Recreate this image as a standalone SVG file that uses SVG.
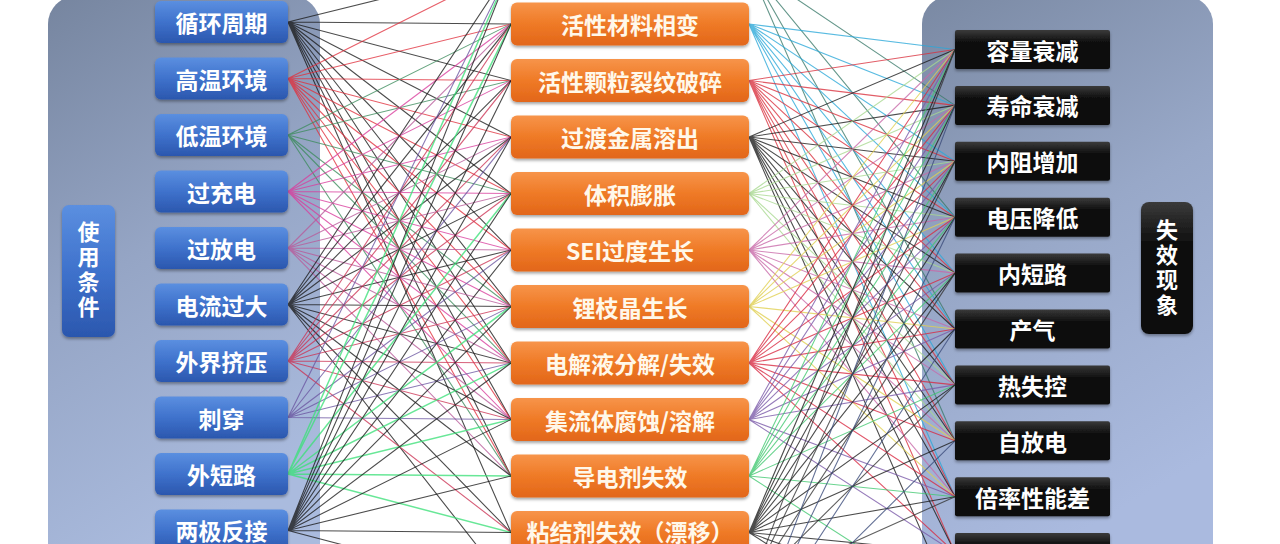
<svg xmlns="http://www.w3.org/2000/svg" width="1280" height="544" viewBox="0 0 1280 544">
<defs>
<linearGradient id="gPanelL" x1="0" y1="0" x2="0.3" y2="1"><stop offset="0" stop-color="#76859f"/><stop offset="0.5" stop-color="#95a5c5"/><stop offset="1" stop-color="#aabbde"/></linearGradient>
<linearGradient id="gPanelR" x1="0" y1="0" x2="0.3" y2="1"><stop offset="0" stop-color="#7a89a3"/><stop offset="0.5" stop-color="#98a8c8"/><stop offset="1" stop-color="#aabadf"/></linearGradient>
<linearGradient id="gBlue" x1="0" y1="0" x2="0" y2="1"><stop offset="0" stop-color="#5b8fe0"/><stop offset="0.5" stop-color="#3f72cc"/><stop offset="1" stop-color="#2b57ae"/></linearGradient>
<linearGradient id="gOrange" x1="0" y1="0" x2="0" y2="1"><stop offset="0" stop-color="#f7944a"/><stop offset="0.5" stop-color="#ef7a26"/><stop offset="1" stop-color="#e2661a"/></linearGradient>
<linearGradient id="gBlack" x1="0" y1="0" x2="0" y2="1"><stop offset="0" stop-color="#3a3a3a"/><stop offset="0.35" stop-color="#0a0a0a"/><stop offset="1" stop-color="#111"/></linearGradient>
<filter id="sh" x="-10%" y="-20%" width="120%" height="150%"><feDropShadow dx="0" dy="2" stdDeviation="1.5" flood-color="#000" flood-opacity="0.35"/></filter>
</defs>
<style>
text{font-family:"Noto Sans CJK SC","Noto Sans",sans-serif;font-weight:bold;fill:#fff;text-anchor:middle;dominant-baseline:central}
.lbl{font-size:23px}
.mid{font-size:23px;fill:#fff8ea}
.vert{font-size:22px;writing-mode:vertical-rl;letter-spacing:3px}
.blue{fill:url(#gBlue);filter:url(#sh)}
.orange{fill:url(#gOrange);filter:url(#sh)}
.black{fill:url(#gBlack);filter:url(#sh)}
#connectors path{fill:none;stroke-width:1.1;stroke-opacity:0.78}
</style>
<rect width="1280" height="544" fill="#ffffff"/>
<g id="panel-left"><rect x="48" y="-4" width="272" height="580" rx="28" fill="url(#gPanelL)"/></g>
<g id="panel-right"><rect x="922" y="-4" width="291" height="580" rx="28" fill="url(#gPanelR)"/></g>
<g id="connectors">
<path stroke="#1a1a1a" d="M288 22L511 -33M288 22L511 24M288 22L511 80.5M288 22L511 137M288 22L511 193.5M288 22L511 250M288 22L511 306.5M288 22L511 363M288 22L511 419.5M288 22L511 476M288 22L511 532.5"/>
<path stroke="#e0303c" d="M288 78.5L511 -33M288 78.5L511 24M288 78.5L511 80.5M288 78.5L511 137M288 78.5L511 193.5M288 78.5L511 250M288 78.5L511 306.5M288 78.5L511 363M288 78.5L511 419.5M288 78.5L511 476"/>
<path stroke="#3c8c5c" d="M288 135L511 24M288 135L511 80.5M288 135L511 193.5M288 135L511 306.5M288 135L511 363M288 135L511 476"/>
<path stroke="#d83c9c" d="M288 191.5L511 24M288 191.5L511 80.5M288 191.5L511 137M288 191.5L511 193.5M288 191.5L511 250M288 191.5L511 306.5M288 191.5L511 363M288 191.5L511 419.5"/>
<path stroke="#b85a9a" d="M288 248L511 24M288 248L511 137M288 248L511 193.5M288 248L511 250M288 248L511 306.5M288 248L511 363M288 248L511 419.5M288 248L511 476"/>
<path stroke="#1a1a1a" d="M288 304.5L511 -33M288 304.5L511 24M288 304.5L511 80.5M288 304.5L511 137M288 304.5L511 193.5M288 304.5L511 250M288 304.5L511 306.5M288 304.5L511 363M288 304.5L511 419.5M288 304.5L511 476M288 304.5L511 532.5M288 304.5L511 589"/>
<path stroke="#cc3355" d="M288 361L511 24M288 361L511 80.5M288 361L511 137M288 361L511 193.5M288 361L511 250M288 361L511 306.5M288 361L511 363M288 361L511 419.5M288 361L511 532.5"/>
<path stroke="#6a55a0" d="M288 417.5L511 -33M288 417.5L511 137M288 417.5L511 250M288 417.5L511 306.5M288 417.5L511 363M288 417.5L511 419.5"/>
<path stroke="#3ee07a" style="stroke-width:1.5" d="M288 474L511 -33M288 474L511 24M288 474L511 193.5M288 474L511 306.5M288 474L511 363M288 474L511 419.5M288 474L511 476M288 474L511 532.5"/>
<path stroke="#1a1a1a" d="M288 530.5L511 -33M288 530.5L511 24M288 530.5L511 80.5M288 530.5L511 137M288 530.5L511 193.5M288 530.5L511 250M288 530.5L511 306.5M288 530.5L511 363M288 530.5L511 419.5M288 530.5L511 476M288 530.5L511 532.5M288 530.5L511 589"/>
<path stroke="#3a7a6a" d="M749 -33L955 105.4M749 -33L955 217.2M749 -33L955 329M749 -33L955 440.8"/>
<path stroke="#2aa8d8" d="M749 24L955 49.5M749 24L955 105.4M749 24L955 161.3M749 24L955 217.2M749 24L955 273.1M749 24L955 329M749 24L955 384.9M749 24L955 496.7"/>
<path stroke="#d8303c" d="M749 80.5L955 49.5M749 80.5L955 105.4M749 80.5L955 161.3M749 80.5L955 217.2M749 80.5L955 273.1M749 80.5L955 329M749 80.5L955 384.9M749 80.5L955 440.8M749 80.5L955 496.7M749 80.5L955 552.6"/>
<path stroke="#1a1a1a" d="M749 137L955 49.5M749 137L955 105.4M749 137L955 161.3M749 137L955 217.2M749 137L955 273.1M749 137L955 329M749 137L955 384.9M749 137L955 440.8M749 137L955 496.7M749 137L955 552.6M749 137L955 608.5"/>
<path stroke="#a8d890" d="M749 193.5L955 49.5M749 193.5L955 105.4M749 193.5L955 161.3M749 193.5L955 217.2M749 193.5L955 273.1M749 193.5L955 384.9M749 193.5L955 440.8"/>
<path stroke="#c868a8" d="M749 250L955 49.5M749 250L955 105.4M749 250L955 161.3M749 250L955 217.2M749 250L955 273.1M749 250L955 329M749 250L955 384.9M749 250L955 440.8M749 250L955 496.7"/>
<path stroke="#e0d050" d="M749 306.5L955 49.5M749 306.5L955 105.4M749 306.5L955 161.3M749 306.5L955 217.2M749 306.5L955 329M749 306.5L955 440.8M749 306.5L955 496.7"/>
<path stroke="#d82840" d="M749 363L955 49.5M749 363L955 105.4M749 363L955 161.3M749 363L955 217.2M749 363L955 273.1M749 363L955 329M749 363L955 384.9M749 363L955 440.8M749 363L955 496.7M749 363L955 552.6"/>
<path stroke="#7a58a8" d="M749 419.5L955 49.5M749 419.5L955 105.4M749 419.5L955 161.3M749 419.5L955 217.2M749 419.5L955 273.1M749 419.5L955 329M749 419.5L955 384.9M749 419.5L955 496.7M749 419.5L955 552.6"/>
<path stroke="#40c870" d="M749 476L955 49.5M749 476L955 105.4M749 476L955 161.3M749 476L955 217.2M749 476L955 273.1M749 476L955 384.9M749 476L955 496.7M749 476L955 608.5"/>
<path stroke="#1a1a1a" d="M749 532.5L955 49.5M749 532.5L955 105.4M749 532.5L955 161.3M749 532.5L955 217.2M749 532.5L955 273.1M749 532.5L955 329M749 532.5L955 384.9M749 532.5L955 440.8M749 532.5L955 496.7M749 532.5L955 552.6M749 532.5L955 608.5M749 532.5L955 664.4"/>
<path stroke="#333333" d="M749 589L955 49.5M749 589L955 161.3M749 589L955 273.1M749 589L955 384.9M749 589L955 496.7"/>
<path stroke="#3a4a7a" d="M749 645.5L955 105.4M749 645.5L955 217.2M749 645.5L955 329M749 645.5L955 440.8M749 645.5L955 552.6"/>
</g>
<g id="label-conditions"><rect class="blue" x="62" y="205" width="53" height="132" rx="7"/><text class="vert" x="88.5" y="271">使用条件</text></g>
<g id="c0"><rect class="blue" x="155" y="1" width="133" height="42" rx="6"/><text class="lbl" x="221.5" y="22">循环周期</text></g>
<g id="c1"><rect class="blue" x="155" y="57.5" width="133" height="42" rx="6"/><text class="lbl" x="221.5" y="78.5">高温环境</text></g>
<g id="c2"><rect class="blue" x="155" y="114" width="133" height="42" rx="6"/><text class="lbl" x="221.5" y="135">低温环境</text></g>
<g id="c3"><rect class="blue" x="155" y="170.5" width="133" height="42" rx="6"/><text class="lbl" x="221.5" y="191.5">过充电</text></g>
<g id="c4"><rect class="blue" x="155" y="227" width="133" height="42" rx="6"/><text class="lbl" x="221.5" y="248">过放电</text></g>
<g id="c5"><rect class="blue" x="155" y="283.5" width="133" height="42" rx="6"/><text class="lbl" x="221.5" y="304.5">电流过大</text></g>
<g id="c6"><rect class="blue" x="155" y="340" width="133" height="42" rx="6"/><text class="lbl" x="221.5" y="361">外界挤压</text></g>
<g id="c7"><rect class="blue" x="155" y="396.5" width="133" height="42" rx="6"/><text class="lbl" x="221.5" y="417.5">刺穿</text></g>
<g id="c8"><rect class="blue" x="155" y="453" width="133" height="42" rx="6"/><text class="lbl" x="221.5" y="474">外短路</text></g>
<g id="c9"><rect class="blue" x="155" y="509.5" width="133" height="42" rx="6"/><text class="lbl" x="221.5" y="529.5">两极反接</text></g>
<g id="m0"><rect class="orange" x="511" y="2.5" width="238" height="43" rx="6"/><text class="mid" x="630" y="24">活性材料相变</text></g>
<g id="m1"><rect class="orange" x="511" y="59" width="238" height="43" rx="6"/><text class="mid" x="630" y="80.5">活性颗粒裂纹破碎</text></g>
<g id="m2"><rect class="orange" x="511" y="115.5" width="238" height="43" rx="6"/><text class="mid" x="630" y="137">过渡金属溶出</text></g>
<g id="m3"><rect class="orange" x="511" y="172" width="238" height="43" rx="6"/><text class="mid" x="630" y="193.5">体积膨胀</text></g>
<g id="m4"><rect class="orange" x="511" y="228.5" width="238" height="43" rx="6"/><text class="mid" x="630" y="250">SEI过度生长</text></g>
<g id="m5"><rect class="orange" x="511" y="285" width="238" height="43" rx="6"/><text class="mid" x="630" y="306.5">锂枝晶生长</text></g>
<g id="m6"><rect class="orange" x="511" y="341.5" width="238" height="43" rx="6"/><text class="mid" x="630" y="363">电解液分解/失效</text></g>
<g id="m7"><rect class="orange" x="511" y="398" width="238" height="43" rx="6"/><text class="mid" x="630" y="419.5">集流体腐蚀/溶解</text></g>
<g id="m8"><rect class="orange" x="511" y="454.5" width="238" height="43" rx="6"/><text class="mid" x="630" y="476">导电剂失效</text></g>
<g id="m9"><rect class="orange" x="511" y="511" width="238" height="43" rx="6"/><text class="mid" x="630" y="531">粘结剂失效（漂移）</text></g>
<g id="r0"><rect class="black" x="955" y="30" width="155" height="39" rx="2"/><text class="lbl" x="1032.5" y="49.5">容量衰减</text></g>
<g id="r1"><rect class="black" x="955" y="85.9" width="155" height="39" rx="2"/><text class="lbl" x="1032.5" y="105.4">寿命衰减</text></g>
<g id="r2"><rect class="black" x="955" y="141.8" width="155" height="39" rx="2"/><text class="lbl" x="1032.5" y="161.3">内阻增加</text></g>
<g id="r3"><rect class="black" x="955" y="197.7" width="155" height="39" rx="2"/><text class="lbl" x="1032.5" y="217.2">电压降低</text></g>
<g id="r4"><rect class="black" x="955" y="253.6" width="155" height="39" rx="2"/><text class="lbl" x="1032.5" y="273.1">内短路</text></g>
<g id="r5"><rect class="black" x="955" y="309.5" width="155" height="39" rx="2"/><text class="lbl" x="1032.5" y="329">产气</text></g>
<g id="r6"><rect class="black" x="955" y="365.4" width="155" height="39" rx="2"/><text class="lbl" x="1032.5" y="384.9">热失控</text></g>
<g id="r7"><rect class="black" x="955" y="421.3" width="155" height="39" rx="2"/><text class="lbl" x="1032.5" y="440.8">自放电</text></g>
<g id="r8"><rect class="black" x="955" y="477.2" width="155" height="39" rx="2"/><text class="lbl" x="1032.5" y="496.7">倍率性能差</text></g>
<g id="r9"><rect class="black" x="955" y="533.1" width="155" height="39" rx="2"/><text class="lbl" x="1032.5" y="555">析锂</text></g>
<g id="label-failures"><rect class="black" x="1141" y="202" width="52" height="132" rx="8"/><text class="vert" x="1167" y="269">失效现象</text></g>
</svg>
